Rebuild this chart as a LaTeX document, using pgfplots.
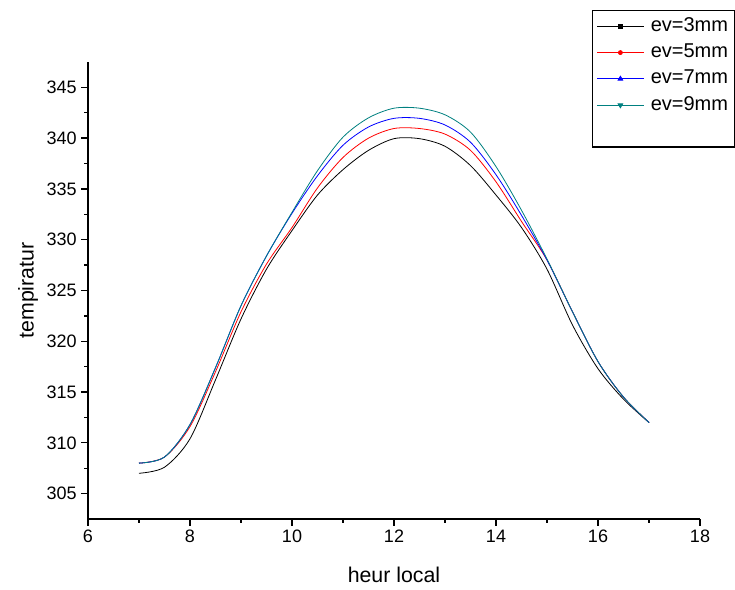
\documentclass[border=0pt]{standalone}
\usepackage{fontspec}
\setmainfont{Liberation Sans}
\usepackage{pgfplots}
\pgfplotsset{compat=1.18}
\definecolor{darkcyan}{RGB}{0,128,128}

\begin{document}
\begin{tikzpicture}[x=1pt,y=1pt]
\begin{axis}[
    at={(66pt,52.5pt)}, anchor=origin,
    scale only axis,
    width=459pt, height=342.75pt,
    xmin=6, xmax=18, ymin=302.5, ymax=347.5,
    xtick={6,8,...,18}, ytick={305,310,...,345},
    minor tick num=1,
    axis x line=bottom, axis y line=left,
    axis line style={-, line width=1pt},
    tick align=outside,
    major tick length=5pt, minor tick length=3pt,
    tick style={black, line width=1pt},
    /pgf/number format/assume math mode=true,
    ticklabel style={font=\fontsize{13.5}{15}\selectfont},
    xlabel={heur local}, ylabel={tempiratur},
    label style={font=\fontsize{16}{18}\selectfont},
    xlabel style={at={(axis description cs:0.5,-0.1225)}, anchor=center},
    ylabel style={at={(axis description cs:-0.098,0.5)}, anchor=center},
    legend image code/.code={
        \draw[#1,mark repeat=2,mark phase=2] plot coordinates {(0pt,0pt) (17.5pt,0pt) (35pt,0pt)};},
    legend cell align=left,
    legend style={at={(axis description cs:0.8235,1.1138)}, anchor=north west,
        draw=black, line width=1pt, font=\fontsize{15}{17}\selectfont,
        nodes={text height=10.5pt, text depth=3pt, inner ysep=2pt, inner xsep=2pt},
        /tikz/every odd column/.append style={column sep=3pt},
        row sep=2.2pt, inner xsep=3pt, inner ysep=3pt},
    every axis plot/.append style={line width=0.6pt},
]
\addlegendimage{black, mark=square*, mark size=1.5pt}
\addlegendentry{ev=3mm}
\addlegendimage{red, mark=*, mark size=1.5pt}
\addlegendentry{ev=5mm}
\addlegendimage{blue, mark=triangle*, mark size=2pt}
\addlegendentry{ev=7mm}
\addlegendimage{darkcyan, mark=triangle*, mark size=2pt, mark options={rotate=180}}
\addlegendentry{ev=9mm}
\addlegendimage{empty legend}
\addlegendentry{}

% ev=3mm
\addplot[black, smooth, forget plot] coordinates {
 (7,307.0) (7.5,307.6) (8,310.4) (8.5,316.2) (9,322.2) (9.5,327.1)
 (10,330.9) (10.5,334.4) (11,336.9) (11.5,338.8) (12,339.95)
 (12.5,339.95) (13,339.2) (13.5,337.3) (14,334.4) (14.5,331.2) (15,327.1)
 (15.5,321.6) (16,317.3) (16.5,314.3) (17,312.0)};
% ev=5mm
\addplot[red, smooth, forget plot] coordinates {
 (7,308.0) (7.5,308.6) (8,311.6) (8.5,317.0) (9,322.9) (9.5,327.6)
 (10,331.2) (10.5,335.1) (11,338.1) (11.5,340.0) (12,340.95)
 (12.5,340.95) (13,340.4) (13.5,338.8) (14,335.7) (14.5,331.8) (15,328.0)
 (15.5,322.9) (16,318.0) (16.5,314.5) (17,312.0)};
% ev=7mm
\addplot[blue, smooth, forget plot] coordinates {
 (7,308.0) (7.5,308.6) (8,311.8) (8.5,317.4) (9,323.5) (9.5,328.4)
 (10,332.6) (10.5,336.3) (11,339.3) (11.5,341.1) (12,341.95)
 (12.5,341.95) (13,341.3) (13.5,339.6) (14,336.4) (14.5,332.4) (15,328.0)
 (15.5,322.9) (16,318.0) (16.5,314.5) (17,312.0)};
% ev=9mm
\addplot[darkcyan, smooth, forget plot] coordinates {
 (7,308.0) (7.5,308.6) (8,311.8) (8.5,317.4) (9,323.5) (9.5,328.4)
 (10,332.7) (10.5,336.8) (11,340.1) (11.5,342.0) (12,342.95)
 (12.5,342.95) (13,342.3) (13.5,340.6) (14,337.2) (14.5,332.9) (15,328.1)
 (15.5,322.9) (16,318.0) (16.5,314.5) (17,312.0)};
\end{axis}
\pgfresetboundingbox
\useasboundingbox (0,0) rectangle (551.25pt,441.75pt);
\end{tikzpicture}
\end{document}
